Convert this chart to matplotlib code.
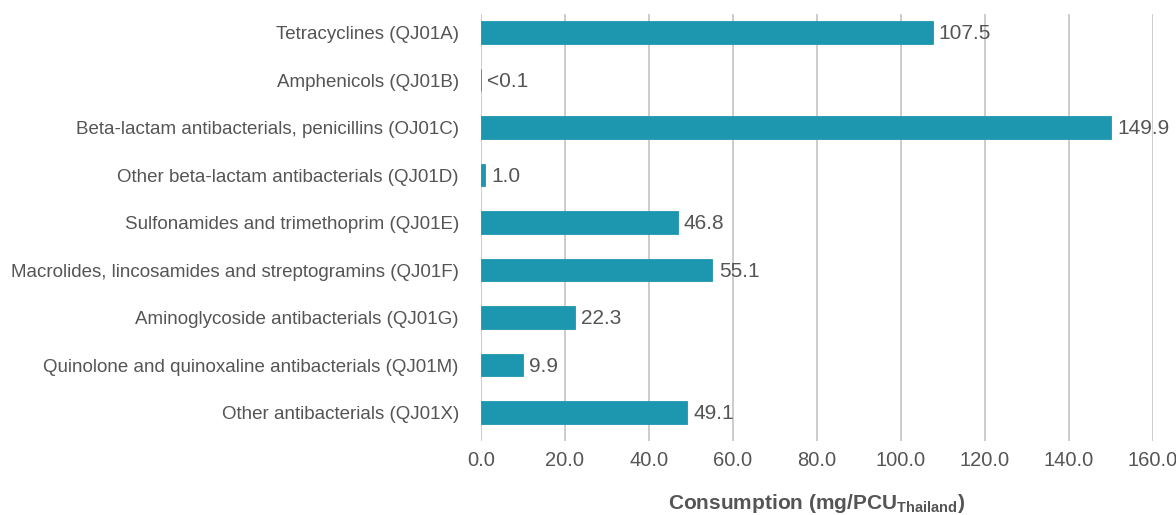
import matplotlib
matplotlib.use("Agg")
import matplotlib.pyplot as plt
from matplotlib.ticker import FuncFormatter

categories = [
    "Tetracyclines (QJ01A)",
    "Amphenicols (QJ01B)",
    "Beta-lactam antibacterials, penicillins (OJ01C)",
    "Other beta-lactam antibacterials (QJ01D)",
    "Sulfonamides and trimethoprim (QJ01E)",
    "Macrolides, lincosamides and streptogramins (QJ01F)",
    "Aminoglycoside antibacterials (QJ01G)",
    "Quinolone and quinoxaline antibacterials (QJ01M)",
    "Other antibacterials (QJ01X)",
]
values = [107.5, 0.05, 149.9, 1.0, 46.8, 55.1, 22.3, 9.9, 49.1]
value_labels = ["107.5", "<0.1", "149.9", "1.0", "46.8", "55.1", "22.3", "9.9", "49.1"]
x_ticks = [0, 20, 40, 60, 80, 100, 120, 140, 160]

BAR = "#1c97af"
TEXT = "#555555"
GRID = "#cccccc"

plt.rcParams["font.family"] = ["Liberation Sans", "DejaVu Sans"]
plt.rcParams["mathtext.fontset"] = "custom"
plt.rcParams["mathtext.bf"] = "Liberation Sans:bold"
plt.rcParams["mathtext.rm"] = "Liberation Sans"

fig = plt.figure(figsize=(11.76, 5.15), dpi=100)
ax = fig.add_axes([0.409, 0.1437, 0.5715, 0.8291])

ypos = list(range(len(categories)))
ax.barh(ypos, values, height=0.48, color=BAR, edgecolor=BAR, linewidth=0.6, zorder=3)

for y, v, lab in zip(ypos, values, value_labels):
    ax.annotate(lab, xy=(v, y), xytext=(4.5, -1), textcoords="offset points",
                ha="left", va="center", fontsize=15, color=TEXT, zorder=4)

ax.set_ylim(8.6, -0.39)
ax.set_xlim(0, 160)
ax.set_xticks(x_ticks)
ax.xaxis.set_major_formatter(FuncFormatter(lambda v, p: f"{v:.1f}"))
ax.set_yticks(ypos)
ax.set_yticklabels(categories)

ax.grid(axis="x", color=GRID, linewidth=1.4, zorder=0)
ax.set_axisbelow(True)
for s in ax.spines.values():
    s.set_visible(False)

ax.tick_params(axis="y", length=0, pad=16, labelsize=13.5, labelcolor=TEXT)
ax.tick_params(axis="x", length=0, pad=7, labelsize=14.5, labelcolor=TEXT)

ax.set_xlabel(r"Consumption (mg/PCU$_{\mathbf{Thailand}}$)", fontsize=15,
              fontweight="bold", color=TEXT, labelpad=16)

fig.savefig("out.png", dpi=100, facecolor="white")
